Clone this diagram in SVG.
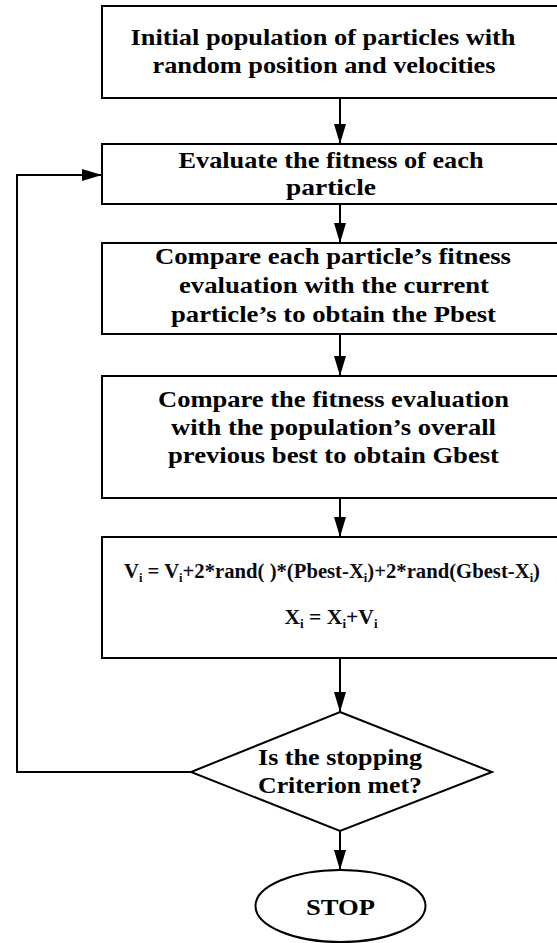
<svg xmlns="http://www.w3.org/2000/svg" width="557" height="943" viewBox="0 0 557 943">
  <defs>
    <marker id="arrow" markerWidth="20" markerHeight="12" refX="20" refY="6" orient="auto" markerUnits="userSpaceOnUse">
      <path d="M0,0 L20,6 L0,12 Z" fill="#000"/>
    </marker>
    <style>
      .box { fill: #fff; stroke: #000; stroke-width: 2; }
      .lbl { font-family: "Liberation Serif", "Times New Roman", serif; font-weight: bold; font-size: 24px; fill: #000; text-anchor: middle; }
      .eq { font-family: "Liberation Serif", "Times New Roman", serif; font-weight: bold; font-size: 20px; fill: #0a0a14; text-anchor: middle; }
      .sub { font-size: 12px; }
      .link { fill: none; stroke: #000; stroke-width: 2; }
    </style>
  </defs>
  <rect width="557" height="943" fill="#fff"/>

  <g id="connectors">
    <line class="link" x1="340" y1="98" x2="340" y2="144" marker-end="url(#arrow)"/>
    <line class="link" x1="340" y1="204" x2="340" y2="243" marker-end="url(#arrow)"/>
    <line class="link" x1="340" y1="334" x2="340" y2="376" marker-end="url(#arrow)"/>
    <line class="link" x1="340" y1="498" x2="340" y2="537" marker-end="url(#arrow)"/>
    <line class="link" x1="340" y1="658" x2="340" y2="712" marker-end="url(#arrow)"/>
    <line class="link" x1="340" y1="831" x2="340" y2="870" marker-end="url(#arrow)"/>
    <polyline class="link" points="191,772 17,772 17,175 102,175" marker-end="url(#arrow)"/>
  </g>

  <g id="init">
    <rect class="box" x="102" y="6" width="480" height="92"/>
    <text class="lbl" x="323" y="45" textLength="385" lengthAdjust="spacingAndGlyphs">Initial population of particles with</text>
    <text class="lbl" x="324" y="73" textLength="343" lengthAdjust="spacingAndGlyphs">random position and velocities</text>
  </g>

  <g id="evaluate">
    <rect class="box" x="102" y="144" width="480" height="60"/>
    <text class="lbl" x="331" y="168" textLength="305" lengthAdjust="spacingAndGlyphs">Evaluate the fitness of each</text>
    <text class="lbl" x="331" y="195" textLength="90" lengthAdjust="spacingAndGlyphs">particle</text>
  </g>

  <g id="pbest">
    <rect class="box" x="102" y="243" width="480" height="91"/>
    <text class="lbl" x="333" y="264" textLength="356" lengthAdjust="spacingAndGlyphs">Compare each particle’s fitness</text>
    <text class="lbl" x="334" y="293" textLength="310" lengthAdjust="spacingAndGlyphs">evaluation with the current</text>
    <text class="lbl" x="333.5" y="322" textLength="325" lengthAdjust="spacingAndGlyphs">particle’s to obtain the Pbest</text>
  </g>

  <g id="gbest">
    <rect class="box" x="102" y="376" width="480" height="122"/>
    <text class="lbl" x="333.5" y="407" textLength="351" lengthAdjust="spacingAndGlyphs">Compare the fitness evaluation</text>
    <text class="lbl" x="333.5" y="435" textLength="325" lengthAdjust="spacingAndGlyphs">with the population’s overall</text>
    <text class="lbl" x="333.5" y="463" textLength="331" lengthAdjust="spacingAndGlyphs">previous best to obtain Gbest</text>
  </g>

  <g id="update">
    <rect class="box" x="102" y="537" width="480" height="121"/>
    <text class="eq" x="332" y="578" textLength="416" lengthAdjust="spacingAndGlyphs">V<tspan class="sub" dy="4">i</tspan><tspan dy="-4"> = V</tspan><tspan class="sub" dy="4">i</tspan><tspan dy="-4">+2*rand( )*(Pbest-X</tspan><tspan class="sub" dy="4">i</tspan><tspan dy="-4">)+2*rand(Gbest-X</tspan><tspan class="sub" dy="4">i</tspan><tspan dy="-4">)</tspan></text>
    <text class="eq" x="331" y="624" textLength="93" lengthAdjust="spacingAndGlyphs">X<tspan class="sub" dy="4">i</tspan><tspan dy="-4"> = X</tspan><tspan class="sub" dy="4">i</tspan><tspan dy="-4">+V</tspan><tspan class="sub" dy="4">i</tspan></text>
  </g>

  <g id="decision">
    <polygon class="box" points="340,712 492,772 340,831 191,772"/>
    <text class="lbl" x="340" y="765" textLength="164" lengthAdjust="spacingAndGlyphs">Is the stopping</text>
    <text class="lbl" x="340" y="793" textLength="164" lengthAdjust="spacingAndGlyphs">Criterion met?</text>
  </g>

  <g id="stop">
    <ellipse class="box" cx="340.5" cy="906" rx="85" ry="36"/>
    <text class="lbl" x="340.5" y="915" textLength="69" lengthAdjust="spacingAndGlyphs">STOP</text>
  </g>
</svg>
